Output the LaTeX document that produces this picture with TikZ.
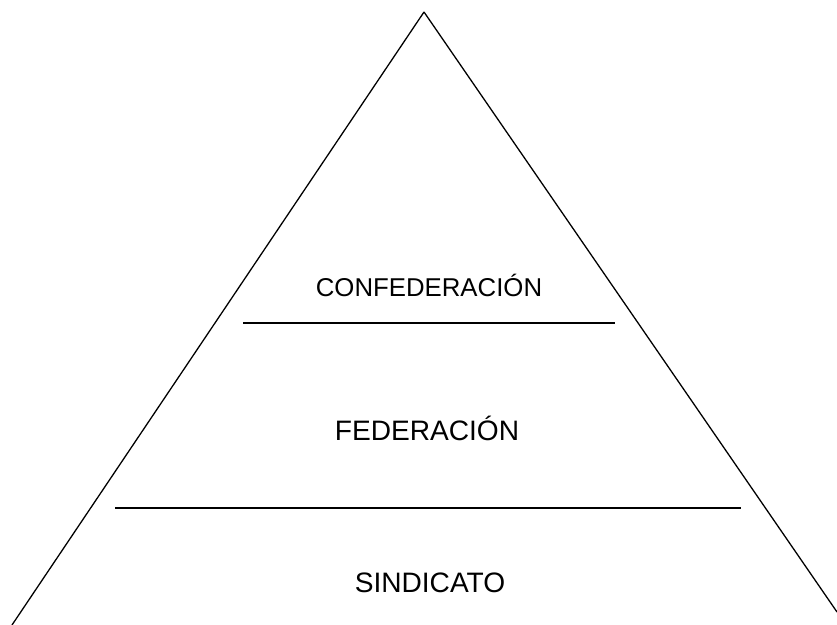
\documentclass[tikz,border=0pt]{standalone}
\usepackage{fontspec}
\setmainfont{Liberation Sans}
\begin{document}
\begin{tikzpicture}[x=0.03cm,y=-0.03cm,line width=1.1pt,
    tier/.style={anchor=base,inner sep=0pt,font=\fontsize{24}{28}\selectfont}]
      \useasboundingbox (0,0) rectangle (837,625);
      \draw
        (424,12) coordinate (apex)
        (12,625) coordinate (bl)
        (837,612) coordinate (br)
        (243,323) coordinate (t1)
        (615,323) coordinate (t2)
        (115,508) coordinate (b1)
        (741,508) coordinate (b2);
      \node[tier,font=\fontsize{22}{26}\selectfont] (confed) at (429,297) {CONFEDERACIÓN};
      \node[tier] (fed) at (427,440) {FEDERACIÓN};
      \node[tier] (sind) at (430,592) {SINDICATO};
      \begin{scope}[-]
        \draw (bl) to (apex);
        \draw (apex) to (br);
        \draw (t1) to (t2);
        \draw (b1) to (b2);
      \end{scope}
    \end{tikzpicture}
\end{document}
